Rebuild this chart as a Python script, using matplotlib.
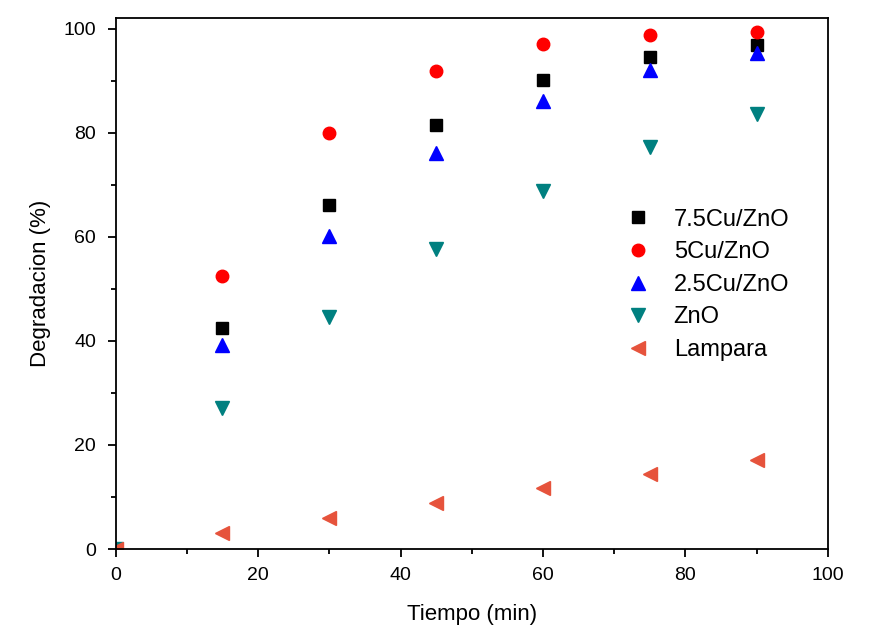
import matplotlib.pyplot as plt
import numpy as np

plt.rcParams['font.family'] = ['Liberation Sans', 'DejaVu Sans']

tiempo = [0, 15, 30, 45, 60, 75, 90]
cu75 = [0, 42.5, 66.2, 81.5, 90.2, 94.6, 96.9]
cu5 = [0, 52.5, 80.0, 91.9, 97.1, 98.8, 99.4]
cu25 = [0, 39.2, 60.2, 76.2, 86.2, 92.1, 95.4]
zno = [0, 27.1, 44.6, 57.7, 68.8, 77.3, 83.7]
lampara = [0, 3.1, 6.0, 8.8, 11.7, 14.4, 17.1]

fig = plt.figure(figsize=(8.76, 6.34), dpi=100)
ax = fig.add_axes([0.132, 0.134, 0.813, 0.837])

ax.plot(tiempo, cu75, 's', color='black', ms=8, label='7.5Cu/ZnO')
ax.plot(tiempo, cu5, 'o', color='red', ms=9, label='5Cu/ZnO')
ax.plot(tiempo, cu25, '^', color='blue', ms=10.5, label='2.5Cu/ZnO')
ax.plot(tiempo, zno, 'v', color='#008080', ms=10.5, label='ZnO')
ax.plot(tiempo, lampara, '<', color='#E6533C', ms=10.5, label='Lampara')

ax.set_xlim(0, 100)
ax.set_ylim(0, 102)
ax.set_xticks(np.arange(0, 101, 20))
ax.set_yticks(np.arange(0, 101, 20))
ax.set_xticks(np.arange(10, 100, 20), minor=True)
ax.set_yticks(np.arange(10, 100, 20), minor=True)
ax.tick_params(which='major', direction='out', length=6, width=1.3, labelsize=14)
ax.tick_params(axis='x', which='major', pad=7)
ax.tick_params(axis='y', which='major', pad=8)
ax.tick_params(which='minor', direction='out', length=3.5, width=1.3)
for s in ax.spines.values():
    s.set_linewidth(1.3)

ax.set_xlabel('Tiempo (min)', fontsize=16, labelpad=14)
ax.set_ylabel('Degradacion (%)', fontsize=16, labelpad=9)

ax.legend(loc='center left', bbox_to_anchor=(0.714, 0.498), frameon=False,
          fontsize=17, handletextpad=0.95, labelspacing=0.45, handlelength=1.15,
          borderaxespad=0, borderpad=0)

fig.savefig('out.png', dpi=100)
